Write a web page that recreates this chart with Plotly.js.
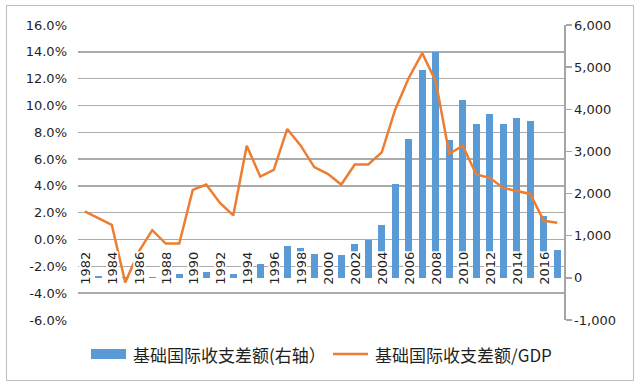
<!DOCTYPE html>
<html><head><meta charset="utf-8">
<script src="https://cdn.plot.ly/plotly-3.0.1.min.js"></script>
<style>
body{margin:0;background:#fff;}
#wrap{position:relative;width:639px;height:386px;}
#chart{width:639px;height:386px;}
#frame{position:absolute;left:6px;top:5px;width:626px;height:374px;border:1px solid #bfbfbf;pointer-events:none;}
</style>
</head><body>
<div id="wrap"><div id="chart"></div><div id="frame"></div></div>
<script>
const years = [1982,1983,1984,1985,1986,1987,1988,1989,1990,1991,1992,1993,1994,1995,1996,1997,1998,1999,2000,2001,2002,2003,2004,2005,2006,2007,2008,2009,2010,2011,2012,2013,2014,2015,2016,2017];
const balance = [30,40,30,20,40,30,50,80,100,135,110,80,250,334,500,756,700,573,480,541,796,899,1258,2229,3303,4933,5356,3279,4217,3644,3899,3644,3804,3716,1473,668];
const ratio = [2.1,1.6,1.1,-3.2,-0.9,0.7,-0.3,-0.3,3.7,4.1,2.75,1.8,7.0,4.7,5.2,8.25,7.0,5.4,4.9,4.1,5.6,5.6,6.5,9.7,12.05,13.9,11.8,6.4,7.0,4.85,4.6,3.85,3.6,3.4,1.4,1.25];
const xTickYears = [1982,1984,1986,1988,1990,1992,1994,1996,1998,2000,2002,2004,2006,2008,2010,2012,2014,2016];
const xTickText = ["1982","1984","1986","1988","1990","1992","1994","1996","1998","2000","2002","2004","2006","2008","2010","2012","2014","2016"];
const leftTickVals = [-6,-4,-2,0,2,4,6,8,10,12,14,16];
const leftTickText = ["-6.0%","-4.0%","-2.0%","0.0%","2.0%","4.0%","6.0%","8.0%","10.0%","12.0%","14.0%","16.0%"];
const rightTickVals = [-1000,0,1000,2000,3000,4000,5000,6000];
const rightTickText = ["-1,000","0","1,000","2,000","3,000","4,000","5,000","6,000"];
const barName = "基础国际收支差额(右轴）";
const lineName = "基础国际收支差额/GDP";

const barColor = "#5b9bd5";
const lineColor = "#ed7d31";
const tickFont = {family: "DejaVu Sans", size: 13, color: "#1f1f1f"};
const legendFont = {family: "Noto Sans CJK SC", size: 17, color: "#1f1f1f"};

const traces = [
  {type: "bar", x: years, y: balance, name: barName, yaxis: "y", xaxis: "x",
   marker: {color: barColor}, width: 0.55},
  {type: "scatter", mode: "lines", x: years, y: ratio, name: lineName, yaxis: "y2", xaxis: "x",
   line: {color: lineColor, width: 2.5}}
];

const annotations = xTickYears.map((yr, i) => ({
  x: yr, xref: "x", y: 0, yref: "y2", yanchor: "top", xanchor: "center", yshift: -11,
  text: xTickText[i], textangle: -90, showarrow: false, bgcolor: "#ffffff", borderpad: 0,
  height: 11, font: tickFont
}));
// custom legend texts
annotations.push({x: 0.109, xref: "paper", y: -0.1153, yref: "paper", xanchor: "left", yanchor: "middle",
  text: barName, showarrow: false, font: legendFont});
annotations.push({x: 0.607, xref: "paper", y: -0.1153, yref: "paper", xanchor: "left", yanchor: "middle",
  text: lineName, showarrow: false, font: legendFont});

const shapes = [
  {type: "rect", xref: "paper", yref: "paper", x0: 0.0267, x1: 0.0988, y0: -0.0983, y1: -0.1322,
   fillcolor: barColor, line: {width: 0}},
  {type: "line", xref: "paper", yref: "paper", x0: 0.5247, x1: 0.5967, y0: -0.1153, y1: -0.1153,
   line: {color: lineColor, width: 2.5}}
];

const layout = {
  width: 639, height: 386,
  margin: {l: 78, r: 75, t: 25, b: 66},
  paper_bgcolor: "#ffffff", plot_bgcolor: "#ffffff",
  showlegend: false,
  bargap: 0,
  xaxis: {range: [1981.5, 2017.5], showticklabels: false, showgrid: false, zeroline: false, showline: false, ticks: "", fixedrange: true},
  yaxis: {side: "right", range: [-1000, 6000], tickvals: rightTickVals, ticktext: rightTickText,
    showgrid: false, zeroline: false, showline: true, linecolor: "#a6a6a6", linewidth: 1.5,
    ticks: "outside", ticklen: 6, tickcolor: "#a6a6a6", tickwidth: 1.5, tickfont: tickFont},
  yaxis2: {side: "left", overlaying: "y", range: [-6, 16], tickvals: leftTickVals, ticktext: leftTickText,
    showgrid: true, gridcolor: "#ababab", gridwidth: 1.5, zeroline: false, showline: false, ticks: "",
    ticklabelstandoff: 10, tickfont: tickFont},
  annotations: annotations,
  shapes: shapes
};

Plotly.newPlot("chart", traces, layout, {staticPlot: true});
</script>
</body></html>
